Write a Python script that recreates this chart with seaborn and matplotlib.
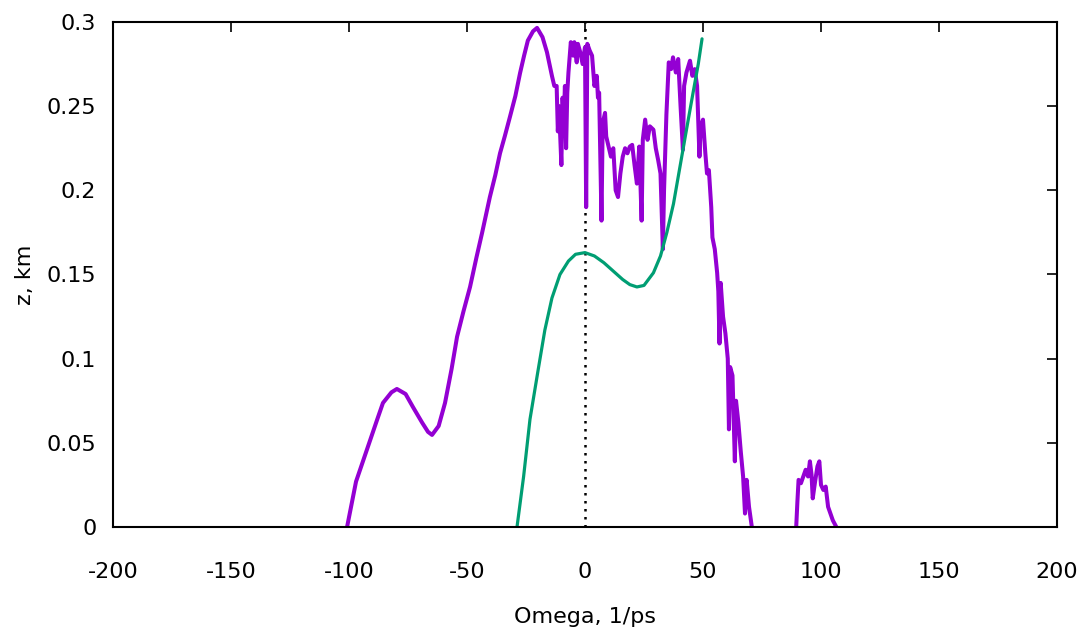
import numpy as np
import pandas as pd
import matplotlib
matplotlib.use("Agg")
import matplotlib.pyplot as plt
import seaborn as sns

# ---- data ----
purple_x = [-100.8, -97, -92.4, -88, -85.6, -82, -79.7, -76, -72.9, -69, -66.5, -64.8,
            -62, -59.3, -56.5, -54.2, -51.5, -48.7, -46, -43.6, -40.3, -38, -36, -34, -31.8,
            -29.5, -27.5, -25.8, -24.2, -22, -20.3, -18, -16.1,
            -14, -13, -12, -11.5, -11, -10, -9.5, -9, -8.5, -8, -7.5, -7, -6, -5, -4.5,
            -3.5, -3, -2, -1, 0, 0.5, 1, 2, 3, 4, 5, 5.5, 6, 7, 7.5, 8.5, 9, 10, 11, 12,
            13, 14, 15, 16, 17, 18, 19, 20, 21, 22, 22.5, 23, 24, 24.5, 25.5, 26.5, 27.5,
            29, 30, 31, 32, 33, 33.5, 34.5, 35.5, 36.5, 37.3, 38.5, 39.5, 40.5, 41.5, 42,
            43, 44.5, 45.5, 46.5, 47.5, 48.5, 49, 50, 51, 51.7, 52.5, 53.5, 54, 55, 56,
            56.5, 57, 57.5, 58.5, 59.5, 60.5, 61, 61.5, 62.5, 63.5, 64, 65, 66, 67, 67.8,
            68.5, 69.5, 70.7]
purple_y = [0.0, 0.027, 0.046, 0.064, 0.0737, 0.080, 0.082, 0.079, 0.0713, 0.062, 0.0565, 0.0547,
            0.060, 0.0737, 0.094, 0.113, 0.128, 0.1426, 0.160, 0.1747, 0.196, 0.209, 0.222, 0.232, 0.2436,
            0.256, 0.2697, 0.280, 0.289, 0.2945, 0.2965, 0.291, 0.282,
            0.268, 0.262, 0.262, 0.235, 0.250, 0.215, 0.255, 0.240, 0.262, 0.225, 0.258, 0.270, 0.288, 0.280, 0.288,
            0.276, 0.287, 0.282, 0.275, 0.285, 0.190, 0.287, 0.283, 0.280, 0.262, 0.268, 0.255, 0.258, 0.182, 0.240, 0.246, 0.232, 0.226, 0.220, 0.225,
            0.200, 0.196, 0.210, 0.220, 0.225, 0.222, 0.226, 0.227, 0.215, 0.204, 0.215, 0.226, 0.182, 0.230, 0.242, 0.230, 0.238,
            0.236, 0.225, 0.218, 0.210, 0.165, 0.200, 0.245, 0.276, 0.272, 0.279, 0.270, 0.278, 0.250, 0.224, 0.262,
            0.270, 0.277, 0.268, 0.272, 0.262, 0.220, 0.238, 0.242, 0.222, 0.210, 0.212, 0.190, 0.172, 0.165, 0.151,
            0.140, 0.109, 0.145, 0.125, 0.115, 0.100, 0.058, 0.095, 0.090, 0.039, 0.075, 0.062, 0.045, 0.030, 0.008,
            0.028, 0.012, 0.0]

bump_x = [89.5, 90, 90.5, 91.5, 92.5, 93.5, 94.5, 95.3, 96, 96.5, 97.5, 98.5, 99.3, 100,
          101, 102, 103, 104, 105, 106.5]
bump_y = [0.0, 0.015, 0.028, 0.026, 0.030, 0.034, 0.030, 0.039, 0.031, 0.017, 0.027, 0.036, 0.039, 0.025,
          0.022, 0.024, 0.012, 0.008, 0.004, 0.0]

green_x = [-28.8, -26, -23.3, -20, -17, -14, -10.6, -7, -4, 0, 4, 8, 12, 16, 19, 22, 25,
           29, 32, 34.7, 37.5, 40, 43, 45.8, 48, 49.6]
green_y = [0.0, 0.030, 0.064, 0.092, 0.117, 0.136, 0.150, 0.158, 0.162, 0.163, 0.161, 0.157, 0.152, 0.147, 0.144, 0.1426, 0.1435,
           0.151, 0.161, 0.175, 0.192, 0.212, 0.236, 0.258, 0.275, 0.290]

x_ticks = [-200, -150, -100, -50, 0, 50, 100, 150, 200]
y_ticks = [0, 0.05, 0.1, 0.15, 0.2, 0.25, 0.3]
y_tick_labels = ["0", "0.05", "0.1", "0.15", "0.2", "0.25", "0.3"]

PURPLE = "#9400D3"
GREEN = "#009E73"

sns.set_style("white")
plt.rcParams['font.family'] = ['DejaVu Sans']
plt.rcParams['text.color'] = 'black'
plt.rcParams['axes.labelcolor'] = 'black'
plt.rcParams['xtick.color'] = 'black'
plt.rcParams['ytick.color'] = 'black'

fig = plt.figure(figsize=(10.85, 6.30), dpi=100)
ax = fig.add_axes([0.1041, 0.1635, 0.9742 - 0.1041, 0.9651 - 0.1635])

sns.lineplot(x=purple_x, y=purple_y, sort=False, estimator=None, color=PURPLE,
             linewidth=2.9, ax=ax)
sns.lineplot(x=bump_x, y=bump_y, sort=False, estimator=None, color=PURPLE,
             linewidth=2.9, ax=ax)
sns.lineplot(x=green_x, y=green_y, sort=False, estimator=None, color=GREEN,
             linewidth=2.3, ax=ax)
ax.axvline(0, color="black", linestyle=(0, (1, 2.2)), linewidth=1.8, zorder=1)

ax.set_xlim(-200, 200)
ax.set_ylim(0, 0.3)
ax.set_xticks(x_ticks)
ax.set_xticklabels([str(v) for v in x_ticks])
ax.set_yticks(y_ticks)
ax.set_yticklabels(y_tick_labels)

ax.tick_params(axis='both', direction='in', length=7, width=1.2, colors='black',
               labelsize=16, top=True, right=True)
ax.tick_params(axis='x', pad=25)
ax.tick_params(axis='y', pad=12)
for s in ax.spines.values():
    s.set_color('black')
    s.set_linewidth(1.5)

ax.set_xlabel("Omega, 1/ps", fontsize=16, labelpad=18, color='black')
ax.set_ylabel("z, km", fontsize=16, labelpad=8, color='black')

fig.savefig("out.png", dpi=100)
